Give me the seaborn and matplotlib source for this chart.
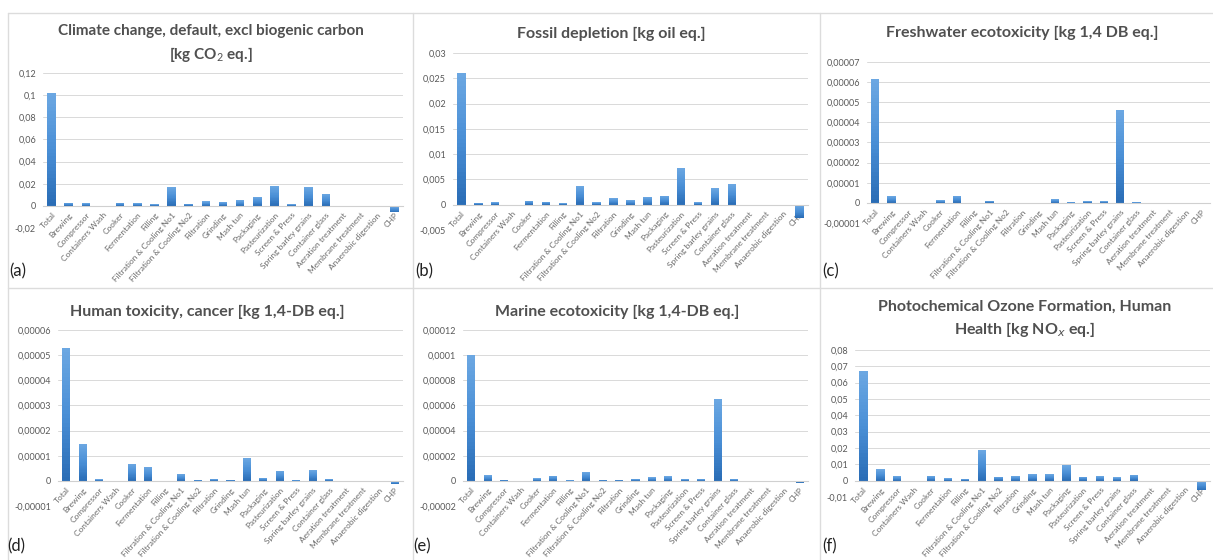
import matplotlib
matplotlib.use("Agg")
import matplotlib.pyplot as plt
from matplotlib.lines import Line2D
from matplotlib.colors import LinearSegmentedColormap
from matplotlib.ticker import FuncFormatter, MultipleLocator
import numpy as np
import seaborn as sns

categories = ["Total", "Brewing", "Compressor", "Containers Wash", "Cooker",
              "Fermentation", "Filling", "Filtration & Cooling No1",
              "Filtration & Cooling No2", "Filtration", "Grinding", "Mash tun",
              "Packaging", "Pasteurization", "Screen & Press",
              "Spring barley grains", "Container glass", "Aeration treatment",
              "Membrane treatment", "Anaerobic digestion", "CHP"]

climate = [0.102, 0.003, 0.0025, 0.0, 0.003, 0.0025, 0.0015, 0.017, 0.002,
           0.004, 0.0035, 0.005, 0.008, 0.018, 0.0015, 0.017, 0.011,
           0.0, 0.0, 0.0, -0.006]
fossil = [0.026, 0.0004, 0.0005, 0.0, 0.0008, 0.0006, 0.0003, 0.0037, 0.0005,
          0.0013, 0.0009, 0.0015, 0.0018, 0.0073, 0.0005, 0.0033, 0.004,
          0.0, 0.0, 0.0, -0.0026]
freshwater = [6.15e-5, 3.3e-6, 0.0, 0.0, 1.3e-6, 3.5e-6, 0.0, 1.0e-6, 0.0,
              0.0, 0.0, 1.8e-6, 3e-7, 8e-7, 8e-7, 4.6e-5, 3e-7,
              0.0, 0.0, 0.0, -5e-7]
human_tox = [5.3e-5, 1.48e-5, 6e-7, 0.0, 6.9e-6, 5.5e-6, 0.0, 2.7e-6, 4e-7,
             7e-7, 5e-7, 9.0e-6, 1.2e-6, 4.0e-6, 3e-7, 4.3e-6, 7e-7,
             0.0, 0.0, 0.0, -1.3e-6]
marine = [1.0e-4, 4.5e-6, 1.0e-6, 0.0, 2.0e-6, 4.0e-6, 5e-7, 7.0e-6, 1.0e-6,
          1.0e-6, 1.5e-6, 2.8e-6, 3.5e-6, 1.3e-6, 1.5e-6, 6.5e-5, 1.5e-6,
          0.0, 0.0, 0.0, -1.5e-6]
ozone = [0.067, 0.007, 0.0028, 0.0, 0.003, 0.0015, 0.001, 0.019, 0.0025,
         0.0028, 0.004, 0.004, 0.0095, 0.0025, 0.0028, 0.002, 0.0037,
         0.0, 0.0, 0.0, -0.006]

titles = ["Climate change, default, excl biogenic carbon\n[kg CO$_2$ eq.]",
          "Fossil depletion [kg oil eq.]",
          "Freshwater ecotoxicity [kg 1,4 DB eq.]",
          "Human toxicity, cancer [kg 1,4-DB eq.]",
          "Marine ecotoxicity [kg 1,4-DB eq.]",
          "Photochemical Ozone Formation, Human\nHealth [kg NO$_x$ eq.]"]
panel_labels = ["(a)", "(b)", "(c)", "(d)", "(e)", "(f)"]
y_limits = [(-0.02, 0.12), (-0.005, 0.03), (-0.00001, 0.00007),
            (-0.00001, 0.00006), (-0.00002, 0.00012), (-0.01, 0.08)]
y_steps = [0.02, 0.005, 0.00001, 0.00001, 0.00002, 0.01]
series = [climate, fossil, freshwater, human_tox, marine, ozone]

sns.set_style("white")
plt.rcParams["font.family"] = ["Lato", "DejaVu Sans"]
plt.rcParams["mathtext.fontset"] = "custom"
plt.rcParams["mathtext.rm"] = "Lato"
plt.rcParams["mathtext.bf"] = "Lato:bold"

W, H = 1213, 560
fig = plt.figure(figsize=(W / 100, H / 100), dpi=100)

# plot areas in pixels: left, top, right, bottom
boxes = [(43, 73, 403, 228), (453, 53, 808, 230), (867, 62, 1210, 223),
         (58, 330, 403, 506), (463, 330, 808, 506), (855, 350, 1210, 497)]
title_pos = [(211, 44), (611, 34), (1022, 33), (207, 312), (617, 312), (1025, 319)]
title_size = [11, 11.5, 11.5, 11.5, 11.5, 11.5]
label_pos = [(9, 271), (415, 271), (822, 271), (7, 546), (413, 546), (822, 546)]

def comma_fmt(v, pos):
    s = f"{v:.6f}".rstrip("0").rstrip(".")
    if s in ("-0", ""):
        s = "0"
    return s.replace(".", ",")

grey_text = "#595959"
bar_cmap = LinearSegmentedColormap.from_list("xl", ["#2a6db6", "#4a8fd6", "#6ba7e2"])

for i, vals in enumerate(series):
    l, t, r, b = boxes[i]
    ax = fig.add_axes([l / W, 1 - b / H, (r - l) / W, (b - t) / H])
    sns.barplot(x=categories, y=vals, ax=ax, color="#4a8fd6", width=0.5,
                saturation=1, linewidth=0)
    # Excel-like vertical shading on top of each bar
    for p in list(ax.patches):
        x0, y0 = p.get_x(), p.get_y()
        y1 = y0 + p.get_height()
        if y0 == y1:
            continue
        ys = np.linspace(min(y0, y1), max(y0, y1), 33)
        shade = np.linspace(0, 1, 32).reshape(-1, 1)
        ax.pcolormesh([x0, x0 + p.get_width()], ys, shade, cmap=bar_cmap,
                      vmin=0, vmax=1, shading="flat", zorder=2.1,
                      antialiased=False, linewidth=0)
    ax.set_ylim(*y_limits[i])
    ax.set_xlim(-0.5, len(categories) - 0.5)
    ax.yaxis.set_major_locator(MultipleLocator(y_steps[i]))
    ax.yaxis.set_major_formatter(FuncFormatter(comma_fmt))
    ax.grid(axis="y", color="#d9d9d9", linewidth=0.7)
    ax.set_axisbelow(True)
    for sp in ["top", "left", "right"]:
        ax.spines[sp].set_visible(False)
    ax.spines["bottom"].set_position(("data", 0))
    ax.spines["bottom"].set_color("#d0d0d0")
    ax.spines["bottom"].set_linewidth(0.8)
    ax.tick_params(axis="y", labelsize=6.5, labelcolor=grey_text, length=0, pad=5)
    ax.tick_params(axis="x", labelsize=6, labelcolor="#6a6a6a", length=0, pad=4)
    plt.setp(ax.get_xticklabels(), rotation=48, ha="right", rotation_mode="anchor")

    tx, ty = title_pos[i]
    fig.text(tx / W, 1 - ty / H, titles[i], ha="center", va="center",
             fontsize=title_size[i], fontweight="bold", color="#505050",
             linespacing=1.45)
    px, py = label_pos[i]
    fig.text(px / W, 1 - py / H, panel_labels[i], ha="left", va="center",
             fontsize=12, color="#222222")

# panel frame lines
line_kw = dict(color="#dcdcdc", linewidth=1.0, transform=fig.transFigure)
fig.add_artist(Line2D([8 / W, 1], [1 - 13 / H] * 2, **line_kw))
fig.add_artist(Line2D([8 / W] * 2, [0, 1 - 13 / H], **line_kw))
fig.add_artist(Line2D([8 / W, 1], [1 - 288 / H] * 2, **line_kw))
fig.add_artist(Line2D([413 / W] * 2, [0, 1 - 13 / H], **line_kw))
fig.add_artist(Line2D([820 / W] * 2, [0, 1 - 13 / H], **line_kw))

fig.savefig("out.png", dpi=100, facecolor="white")
